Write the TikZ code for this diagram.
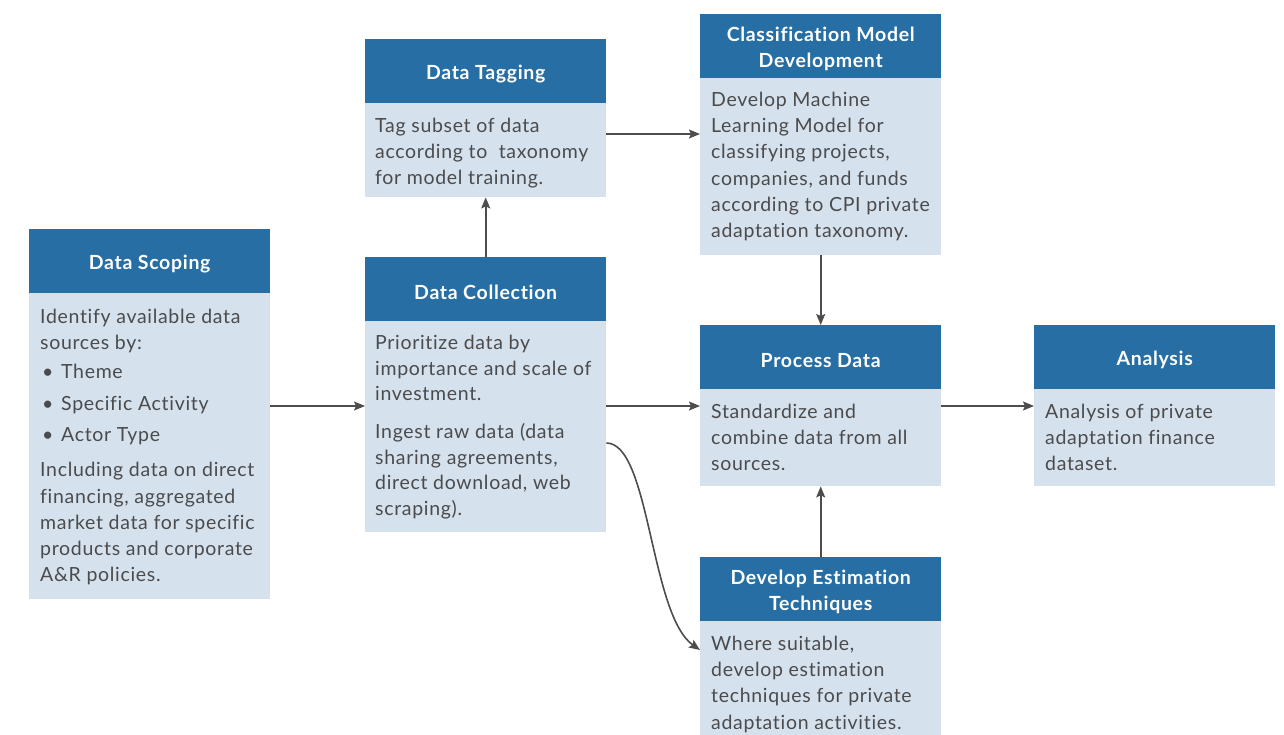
\documentclass[tikz,border=0pt]{standalone}
\usepackage{fontspec}
\setmainfont{Lato}[LetterSpace=3.5,Ligatures=NoCommon]
\usetikzlibrary{arrows.meta}
\definecolor{hdr}{HTML}{266EA3}
\definecolor{bdy}{HTML}{D5E2ED}
\definecolor{txtc}{HTML}{4B4B4D}
\definecolor{arrc}{HTML}{4D4D4D}
\begin{document}
\begin{tikzpicture}[x=1pt,y=-1pt,
  hbox/.style={rectangle, fill=hdr, inner sep=0pt, minimum width=241pt, minimum height=64pt, anchor=north west},
  htext/.style={text=white, inner sep=0pt, align=center, font=\fontsize{19.5}{26}\selectfont\bfseries},
  bbox/.style={rectangle, fill=bdy, inner sep=0pt, minimum width=241pt, anchor=north west},
  btext/.style={anchor=north west, inner sep=0pt, align=left, text=txtc, font=\fontsize{19.5}{26.3}\selectfont},
  conn/.style={draw=arrc, line width=1.6pt, -{Stealth[length=11pt,width=9pt,inset=2pt]}}
]
\useasboundingbox (0,0) rectangle (1284,735);
\coordinate (y406) at (0,406);
\coordinate (y134) at (0,134);
\coordinate (y443) at (0,443);
\coordinate (y650) at (0,650);
% Data Scoping
\node[hbox] (sh) at (29,229) {};
\node[htext] (sht) at ([yshift=-3pt]sh.center) {Data Scoping};
\node[bbox, minimum height=306pt] (sb) at (29,293) {};
\node[btext] (st) at (40,304.6) {\strut Identify available data\\
sources by:\\[3pt]
\makebox[21pt][l]{\hspace*{2pt}•}Theme\\[5pt]
\makebox[21pt][l]{\hspace*{2pt}•}Specific Activity\\[5pt]
\makebox[21pt][l]{\hspace*{2pt}•}Actor Type\\[9pt]
Including data on direct\\
financing, aggregated\\
market data for specific\\
products and corporate\\
A\&R policies.};
% Data Collection
\node[hbox] (ch) at (365,257) {};
\node[htext] (cht) at ([yshift=-3pt]ch.center) {Data Collection};
\node[bbox, minimum height=211pt] (cb) at (365,321) {};
\node[btext, font=\fontsize{19.5}{25.6}\selectfont] (ct) at (375,331.6) {\strut Prioritize data by\\
importance and scale of\\
investment.\\[12pt]
Ingest raw data (data\\
sharing agreements,\\
direct download, web\\
scraping).};
% Data Tagging
\node[hbox] (th) at (365,39) {};
\node[htext] (tht) at ([yshift=-3pt]th.center) {Data Tagging};
\node[bbox, minimum height=94pt] (tb) at (365,103) {};
\node[btext] (tt) at (375,113.6) {\strut Tag subset of data\\
according to\ \ taxonomy\\
for model training.};
% Classification
\node[hbox] (mh) at (700,14) {};
\node[htext] (mht) at ([yshift=-3pt]mh.center) {Classification Model\\Development};
\node[bbox, minimum height=177pt] (mb) at (700,78) {};
\node[btext] (mt) at (711,87.6) {\strut Develop Machine\\
Learning Model for\\
classifying projects,\\
companies, and funds\\
according to CPI private\\
adaptation taxonomy.};
% Process Data
\node[hbox] (ph) at (700,325) {};
\node[htext] (pht) at ([yshift=-3pt]ph.center) {Process Data};
\node[bbox, minimum height=97pt] (pb) at (700,389) {};
\node[btext] (pt) at (711,399.6) {\strut Standardize and\\
combine data from all\\
sources.};
% Analysis
\node[hbox] (ah) at (1034,325) {};
\node[htext] (aht) at ([yshift=-3pt]ah.center) {Analysis};
\node[bbox, minimum height=97pt] (ab) at (1034,389) {};
\node[btext] (at) at (1045,399.6) {\strut Analysis of private\\
adaptation finance\\
dataset.};
% Estimation
\node[hbox] (eh) at (700,557) {};
\node[htext] (eht) at ([yshift=-3pt]eh.center) {Develop Estimation\\Techniques};
\node[bbox, minimum height=114pt] (eb) at (700,621) {};
\node[btext] (et) at (711,631.6) {\strut Where suitable,\\
develop estimation\\
techniques for private\\
adaptation activities.};
% connectors
\draw[conn] (sb.east |- y406) -- (cb.west |- y406);
\draw[conn] (ch.north) -- (tb.south);
\draw[conn] (tb.east |- y134) -- (mb.west |- y134);
\draw[conn] (mb.south) -- (ph.north);
\draw[conn] (cb.east |- y406) -- (pb.west |- y406);
\draw[conn] (eh.north) -- (pb.south);
\draw[conn] (pb.east |- y406) -- (ab.west |- y406);
\draw[conn] (cb.east |- y443) .. controls (650,443) and (650,615) .. (eb.west |- y650);
\end{tikzpicture}
\end{document}
